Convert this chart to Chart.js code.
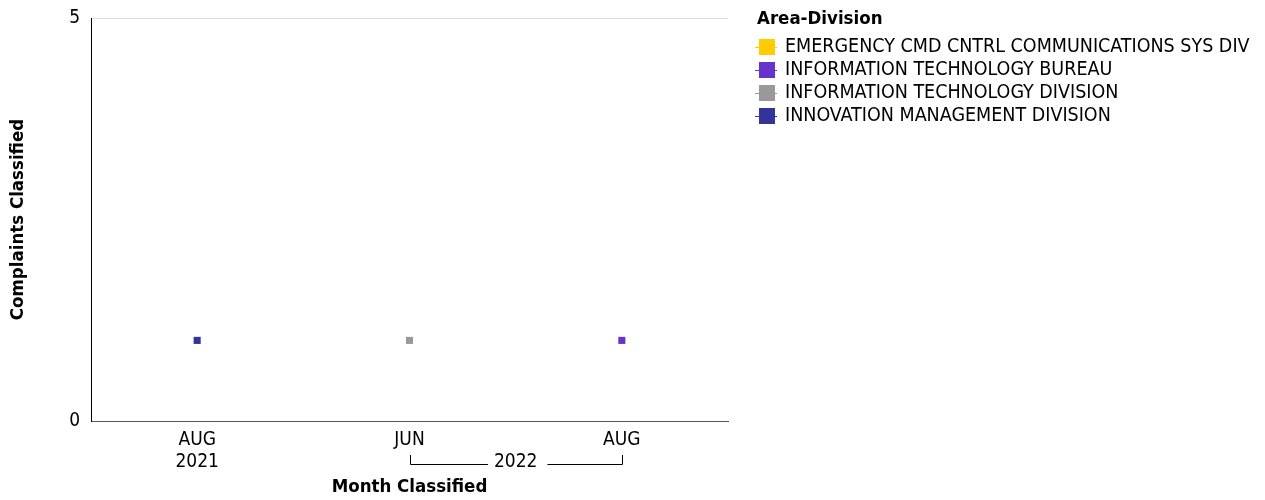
<!DOCTYPE html>
<html>
<head>
<meta charset="utf-8">
<script src="https://cdn.jsdelivr.net/npm/chart.js@4"></script>
<style>
  html, body { margin: 0; padding: 0; background: #fff; }
  #wrap { width: 1265px; height: 500px; }
</style>
</head>
<body>
<div id="wrap"><canvas id="complaintsChart" width="1265" height="500"></canvas></div>
<script>
// mois et années de l'axe x
var mois = ['AUG', 'JUN', 'AUG'];
var annees = ['2021', '2022', '2022'];

// une série par division (null = pas de point)
var divisions = [
    'EMERGENCY CMD CNTRL COMMUNICATIONS SYS DIV',
    'INFORMATION TECHNOLOGY BUREAU',
    'INFORMATION TECHNOLOGY DIVISION',
    'INNOVATION MANAGEMENT DIVISION'
];
var emergencyCmd = [null, null, null];
var itBureau = [null, null, 1];
var itDivision = [null, 1, null];
var innovationMgmt = [1, null, null];
var couleurs = ['#FFCC00', '#6633CC', '#999999', '#333399'];

var yTicks = [0, 5];
var police = "'DejaVu Sans Condensed', 'DejaVu Sans', sans-serif";

var seriesData = [emergencyCmd, itBureau, itDivision, innovationMgmt];

// dessine les années sous les mois, avec crochet quand plusieurs mois
var anneesPlugin = {
    id: 'anneesPlugin',
    afterDraw: function(chart) {
        var ctx = chart.ctx;
        var xScale = chart.scales.x;
        var y = 462;
        ctx.save();
        ctx.font = '19px ' + police;
        ctx.fillStyle = '#000';
        ctx.strokeStyle = '#000';
        ctx.lineWidth = 1;
        ctx.textAlign = 'center';
        ctx.textBaseline = 'middle';
        var i = 0;
        while (i < annees.length) {
            var j = i;
            while (j + 1 < annees.length && annees[j + 1] === annees[i]) j++;
            var x1 = xScale.getPixelForValue(i);
            var x2 = xScale.getPixelForValue(j);
            if (i === j) {
                ctx.fillText(annees[i], x1, y);
            } else {
                var mid = (x1 + x2) / 2;
                var w = ctx.measureText(annees[i]).width / 2 + 6;
                ctx.beginPath();
                ctx.moveTo(Math.round(x1) + 0.5, y - 7);
                ctx.lineTo(Math.round(x1) + 0.5, y + 2.5);
                ctx.lineTo(mid - w, y + 2.5);
                ctx.moveTo(mid + w + 4, y + 2.5);
                ctx.lineTo(Math.round(x2) + 0.5, y + 2.5);
                ctx.lineTo(Math.round(x2) + 0.5, y - 7);
                ctx.stroke();
                ctx.fillText(annees[i], mid, y);
            }
            i = j + 1;
        }
        ctx.restore();
    }
};

// légende à droite, dessinée à la main
var legendePlugin = {
    id: 'legendePlugin',
    afterDraw: function(chart) {
        var ctx = chart.ctx;
        var x0 = 757;
        ctx.save();
        ctx.textBaseline = 'middle';
        ctx.textAlign = 'left';
        ctx.fillStyle = '#000';
        ctx.font = 'bold 18.5px ' + police;
        ctx.fillText('Area-Division', x0, 19);
        ctx.font = '19.5px ' + police;
        for (var k = 0; k < divisions.length; k++) {
            var yc = 47 + k * 23;
            ctx.strokeStyle = couleurs[k];
            ctx.lineWidth = 1;
            ctx.beginPath();
            ctx.moveTo(x0 - 2, yc + 0.5);
            ctx.lineTo(x0 + 20, yc + 0.5);
            ctx.stroke();
            ctx.fillStyle = couleurs[k];
            ctx.fillRect(x0 + 2, yc - 8, 16, 16);
            ctx.fillStyle = '#000';
            ctx.fillText(divisions[k], x0 + 28, yc);
        }
        ctx.restore();
    }
};

var datasets = divisions.map(function(nom, k) {
    return {
        label: nom,
        data: seriesData[k],
        borderColor: couleurs[k],
        backgroundColor: couleurs[k],
        showLine: false,
        pointStyle: 'rect',
        pointRadius: 5,
        pointHoverRadius: 5,
        pointBorderWidth: 0
    };
});

var ctx = document.getElementById('complaintsChart').getContext('2d');
var myChart = new Chart(ctx, {
    type: 'line',
    data: {
        labels: mois,
        datasets: datasets
    },
    options: {
        responsive: false,
        animation: false,
        layout: { padding: { top: 18, right: 537, left: 0, bottom: 0 } },
        plugins: {
            legend: { display: false },
            tooltip: { enabled: false }
        },
        scales: {
            x: {
                offset: true,
                grid: { display: false },
                border: { color: '#555', width: 1 },
                ticks: {
                    color: '#000',
                    font: { size: 19, family: police },
                    maxRotation: 0,
                    padding: 0
                },
                title: {
                    display: true,
                    text: 'Month Classified',
                    color: '#000',
                    font: { size: 18.5, weight: 'bold', family: police },
                    padding: { top: 0, bottom: 2 }
                },
                afterFit: function(scale) { scale.height = 79; }
            },
            y: {
                min: 0,
                max: 5,
                afterBuildTicks: function(scale) {
                    scale.ticks = yTicks.map(function(v) { return { value: v }; });
                },
                grid: { color: '#dddddd', drawTicks: false },
                border: { color: '#000', width: 1 },
                ticks: {
                    color: '#000',
                    font: { size: 19, family: police },
                    padding: 11
                },
                title: {
                    display: true,
                    text: 'Complaints Classified',
                    color: '#000',
                    font: { size: 18.5, weight: 'bold', family: police },
                    padding: { top: 7, bottom: 0 }
                },
                afterFit: function(scale) {
                    scale.width = 91;
                    scale.paddingTop = 0;
                    scale.paddingBottom = 0;
                }
            }
        }
    },
    plugins: [anneesPlugin, legendePlugin]
});
</script>
</body>
</html>
